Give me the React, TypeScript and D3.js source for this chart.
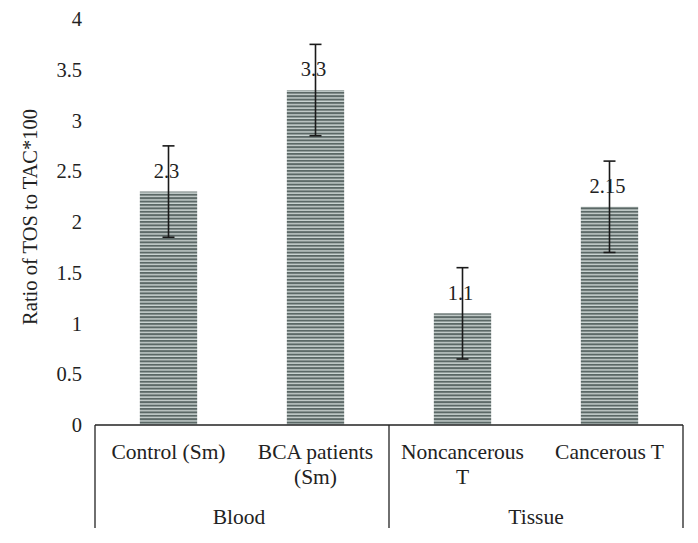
import React from "react";
import * as d3 from "d3";

const categories = ["Control (Sm)", "BCA patients (Sm)", "Noncancerous T", "Cancerous T"];
const categoryLines = [["Control (Sm)"], ["BCA patients", "(Sm)"], ["Noncancerous", "T"], ["Cancerous T"]];
const groups = ["Blood", "Tissue"];
const values = [2.3, 3.3, 1.1, 2.15];
const valueLabels = ["2.3", "3.3", "1.1", "2.15"];
const errors = [0.45, 0.45, 0.45, 0.45];
const yTicks = [0, 0.5, 1, 1.5, 2, 2.5, 3, 3.5, 4];
const yTitle = "Ratio of TOS to TAC*100";

const W = 698;
const H = 543;
const left = 95;
const right = 683;
const y0 = 425;
const yTop = 19;
const bottom = 528;
const font = "Liberation Serif, Times New Roman, serif";

export default function App() {
  const x = d3.scaleBand<string>().domain(categories).range([left, right]).paddingInner(0.61).paddingOuter(0.305);
  const y = d3.scaleLinear().domain([0, 4]).range([y0, yTop]);
  const groupScale = d3.scaleBand<string>().domain(groups).range([left, right]);
  const bw = x.bandwidth();

  return (
    <svg width={W} height={H} style={{ position: "absolute", left: 0, top: 0, background: "#fff", fontFamily: font }}>
      <defs>
        <pattern id="stripes" patternUnits="userSpaceOnUse" width={8} height={3.4}>
          <rect x={0} y={0} width={8} height={3.4} fill="#cdd6d4" />
          <rect x={0} y={0} width={8} height={2} fill="#5b6866" />
        </pattern>
      </defs>
      <g style={{ fontFamily: font }} fill="#222">
        {yTicks.map((t) => (
          <text key={t} x={82} y={y(t)} dy="0.35em" textAnchor="end" fontSize={20.5}>
            {String(t)}
          </text>
        ))}
        <text transform={`translate(37, ${y(2.05)}) rotate(-90)`} textAnchor="middle" fontSize={20.5}>
          {yTitle}
        </text>
      </g>
      {categories.map((c, i) => (
        <rect key={c} x={x(c)} y={y(values[i])} width={bw} height={y0 - y(values[i])} fill="url(#stripes)" />
      ))}
      <line x1={left} x2={right} y1={y0} y2={y0} stroke="#222" strokeWidth={1.3} />
      {[left, (left + right) / 2, right].map((xx, i) => (
        <line key={i} x1={xx} x2={xx} y1={y0} y2={bottom} stroke="#222" strokeWidth={1.3} />
      ))}
      <g style={{ fontFamily: font }} fill="#222">
        {categories.map((c, i) => {
          const cx = (x(c) as number) + bw / 2;
          return (
            <text key={c} x={cx - 2} y={y(values[i]) - 21} dy="0.35em" textAnchor="middle" fontSize={20.5}>
              {valueLabels[i]}
            </text>
          );
        })}
      </g>
      {categories.map((c, i) => {
        const cx = (x(c) as number) + bw / 2;
        const hi = y(values[i] + errors[i]);
        const lo = y(values[i] - errors[i]);
        return (
          <g key={c} stroke="#1a1a1a" strokeWidth={1.6}>
            <line x1={cx} x2={cx} y1={hi} y2={lo} />
            <line x1={cx - 6} x2={cx + 6} y1={hi} y2={hi} />
            <line x1={cx - 6} x2={cx + 6} y1={lo} y2={lo} />
          </g>
        );
      })}
      <g style={{ fontFamily: font }} fill="#222">
        {categories.map((c, i) => {
          const cx = (x(c) as number) + bw / 2;
          return (
            <text key={c} textAnchor="middle" fontSize={21.5}>
              {categoryLines[i].map((ln, j) => (
                <tspan key={j} x={cx} y={459 + j * 25}>
                  {ln}
                </tspan>
              ))}
            </text>
          );
        })}
        {groups.map((g, gi) => (
          <text
            key={g}
            x={(groupScale(g) as number) + groupScale.bandwidth() / 2 + (gi === 0 ? -3 : 0)}
            y={524}
            textAnchor="middle"
            fontSize={21.5}
          >
            {g}
          </text>
        ))}
      </g>
    </svg>
  );
}
